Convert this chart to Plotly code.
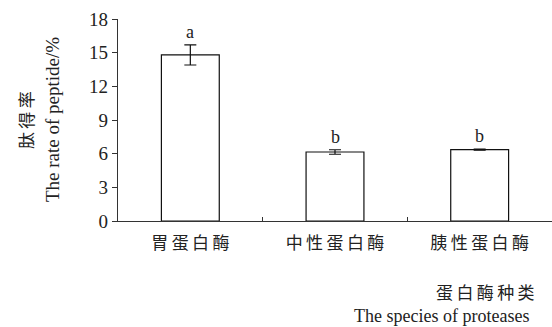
import plotly.graph_objects as go

# Peptide yield by protease type
categories = ["胃蛋白酶", "中性蛋白酶", "胰性蛋白酶"]
yield_pct = [14.8, 6.15, 6.36]
yield_err = [0.9, 0.2, 0.05]
sig_letters = ["a", "b", "b"]
y_ticks = [0, 3, 6, 9, 12, 15, 18]

serif = "Liberation Serif, Times New Roman, serif"
cjk = "Noto Sans CJK SC, sans-serif"
ink = "#333333"
gap = "\u2009"  # thin space between CJK characters


def spaced(s):
    return gap.join(s)


fig = go.Figure()
fig.add_trace(go.Bar(
    x=categories,
    y=yield_pct,
    width=0.4,
    marker=dict(color="white", line=dict(color="#111111", width=1.2)),
    error_y=dict(type="data", array=yield_err, visible=True,
                 color="#111111", thickness=1.2, width=6),
))

# significance letters above each bar
for c, v, e, s in zip(categories, yield_pct, yield_err, sig_letters):
    fig.add_annotation(x=c, y=v + e, text=s, showarrow=False,
                       yanchor="bottom", yshift=1,
                       font=dict(family=serif, size=18, color="#222222"))

# axis titles
fig.add_annotation(xref="paper", yref="paper", x=0.965, y=-0.351,
                   text=spaced("蛋白酶种类"), showarrow=False,
                   xanchor="right", yanchor="middle",
                   font=dict(family=cjk, size=17, color="#222222"))
fig.add_annotation(xref="paper", yref="paper", x=0.952, y=-0.468,
                   text="The species of proteases", showarrow=False,
                   xanchor="right", yanchor="middle",
                   font=dict(family=serif, size=18, color="#222222"))
fig.add_annotation(xref="paper", yref="paper", x=-0.214, y=0.5,
                   xanchor="center", yanchor="middle",
                   text=spaced("肽得率"), showarrow=False,
                   textangle=-90, font=dict(family=cjk, size=17, color="#222222"))
fig.add_annotation(xref="paper", yref="paper", x=-0.152, y=0.5,
                   xanchor="center", yanchor="middle",
                   text="The rate of peptide/%", showarrow=False,
                   textangle=-90,
                   font=dict(family=serif, size=19, color="#222222"))

fig.update_layout(
    width=552, height=327,
    margin=dict(l=118, r=0, t=19, b=106),
    plot_bgcolor="white", paper_bgcolor="white",
    showlegend=False,
    bargap=0.6,
)
fig.update_xaxes(
    type="category", showline=True, linecolor=ink, linewidth=1.2,
    ticks="inside", tickson="boundaries", ticklen=4, tickcolor=ink,
    tickvals=categories, ticktext=[spaced(c) for c in categories],
    tickfont=dict(family=cjk, size=17, color="#222222"),
    ticklabelstandoff=6,
    showgrid=False, range=[-0.5, 2.5],
)
fig.update_yaxes(
    range=[0, 18], tickvals=y_ticks, showline=True, linecolor=ink,
    linewidth=1.2, ticks="outside", ticklen=5, tickcolor=ink,
    tickfont=dict(family=serif, size=19, color="#222222"),
    showgrid=False, zeroline=False,
)

fig.write_html("out.html")
